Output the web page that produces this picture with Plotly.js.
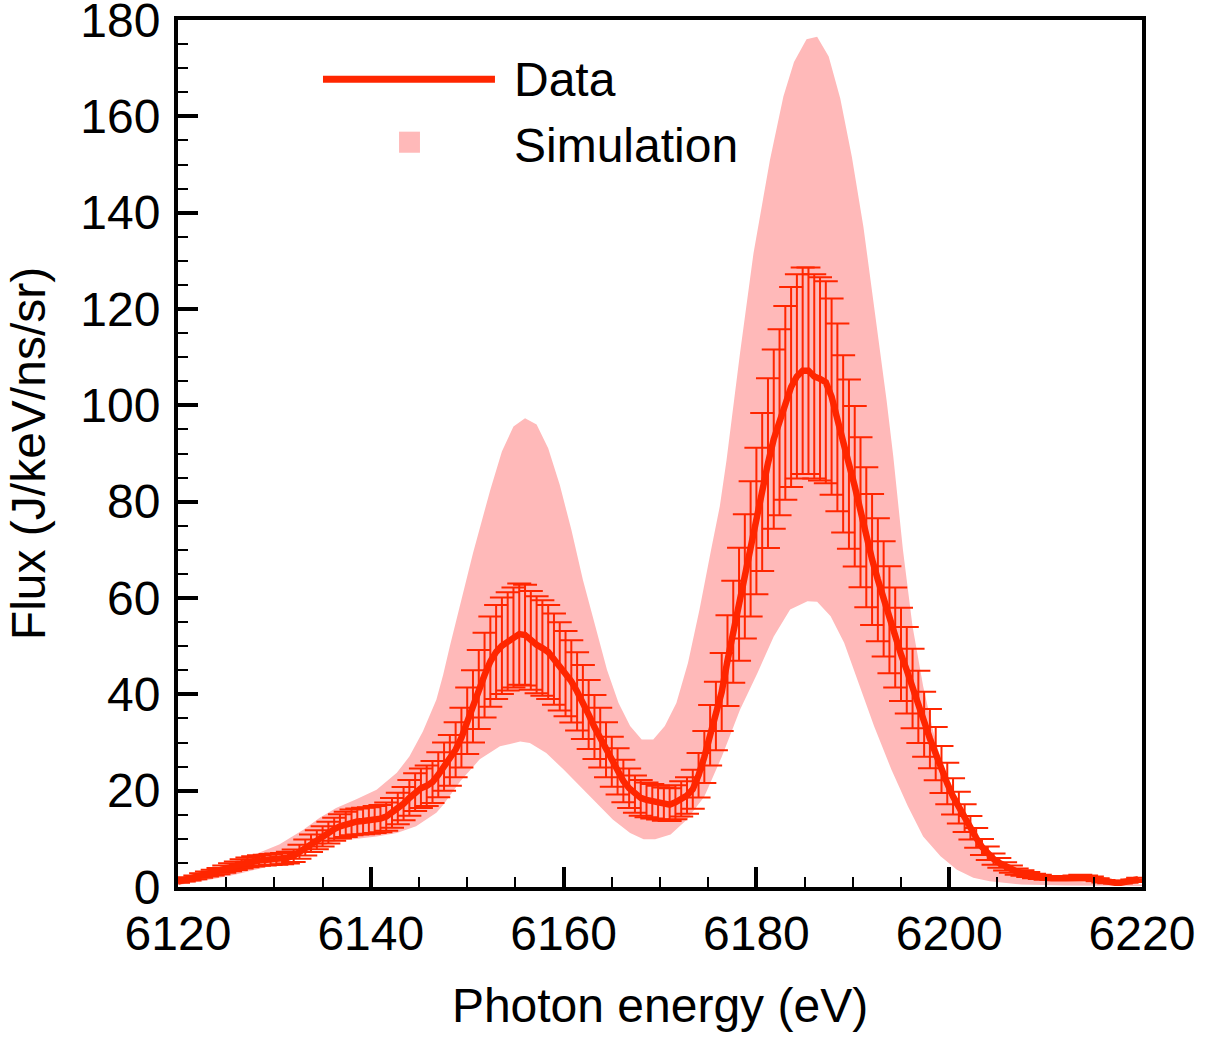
<!DOCTYPE html>
<html>
<head>
<meta charset="utf-8">
<script src="https://cdn.plot.ly/plotly-3.0.1.min.js"></script>
<style>
  html, body { margin: 0; padding: 0; background: #ffffff; }
  #chart { width: 1216px; height: 1039px; }
</style>
</head>
<body>
<div id="chart"></div>
<script>
// ---- Data ----
// Measured spectrum: first energy and energy step (eV)
const dataStartEnergy = 6120;
const dataEnergyStep = 0.6;
// Flux values (J/keV/ns/sr), one per step
const dataFlux = [
  1.1, 1.4, 1.7, 2.0, 2.4, 2.7, 3.0, 3.3, 3.7, 4.1,
  4.4, 4.8, 5.1, 5.3, 5.5, 5.6, 5.7, 5.8, 5.9, 6.1,
  6.5, 7.3, 8.2, 9.1, 9.8, 10.5, 11.3, 12.0, 12.6, 13.0,
  13.4, 13.6, 13.7, 13.8, 14.0, 14.2, 14.6, 15.4, 16.3, 17.3,
  18.5, 19.7, 20.5, 21.0, 21.8, 23.3, 25.0, 26.3, 28.5, 31.0,
  34.5, 37.5, 41.0, 44.0, 46.8, 48.8, 50.1, 51.0, 51.8, 52.5,
  52.3, 51.2, 50.3, 49.6, 48.8, 47.3, 45.8, 44.3, 42.7, 40.6,
  38.4, 35.8, 33.2, 31.0, 28.5, 26.0, 24.0, 22.0, 20.5, 19.3,
  18.5, 18.1, 17.8, 17.5, 17.2, 17.1, 17.6, 18.3, 19.0, 20.3,
  23.2, 27.0, 31.5, 35.5, 40.5, 47.0, 53.0, 58.7, 64.5, 70.2,
  76.0, 82.0, 88.0, 93.0, 96.5, 100.5, 103.8, 106.0, 107.2, 107.2,
  106.0, 105.5, 104.8, 101.8, 97.5, 92.0, 87.8, 83.2, 77.8, 72.6,
  68.0, 63.8, 59.8, 55.5, 51.8, 48.3, 45.0, 41.2, 37.4, 33.8,
  30.8, 27.7, 24.4, 21.5, 18.8, 16.5, 14.3, 12.3, 10.2, 8.3,
  7.0, 5.8, 5.0, 4.3, 3.7, 3.2, 2.9, 2.6, 2.3, 2.1,
  1.9, 1.8, 1.8, 1.8, 1.9, 2.0, 2.1, 2.0, 1.8, 1.5,
  1.2, 1.0, 0.9, 0.9, 1.1, 1.3, 1.6
];
// Error on the measured flux, in percent
const dataErrorPercent = 20;

// Simulation band: upper edge
const simUpperEnergy = [
  6120.0, 6122.0, 6124.0, 6126.0, 6128.4, 6130.5, 6133.0, 6134.7, 6136.4, 6138.5,
  6140.6, 6142.7, 6144.0, 6145.4, 6146.8, 6147.5, 6148.2, 6148.9, 6150.6, 6152.4,
  6153.6, 6154.8, 6156.0, 6157.2, 6158.4, 6159.6, 6160.8, 6162.0, 6163.3, 6164.5,
  6165.7, 6166.9, 6168.1, 6169.3, 6170.5, 6171.7, 6172.9, 6174.1, 6175.3, 6176.2,
  6176.9, 6178.3, 6179.7, 6181.4, 6182.8, 6183.9, 6185.2, 6186.3, 6187.5, 6188.7,
  6189.9, 6191.1, 6192.3, 6193.5, 6194.2, 6195.2, 6196.2, 6197.3, 6198.3, 6199.3,
  6200.4, 6201.4, 6202.8, 6204.2, 6206.0, 6207.4, 6209.0, 6211.0, 6214.0, 6217.0,
  6220.0
];
const simUpperFlux = [
  1.0, 2.5, 4.0, 5.5, 7.1, 8.8, 11.9, 14.4, 16.4, 18.2,
  20.2, 23.7, 27.1, 32.3, 38.9, 44.0, 50.0, 55.5, 69.3, 82.5,
  90.4, 95.6, 97.3, 96.0, 91.1, 83.5, 74.2, 63.8, 54.1, 45.1,
  38.2, 33.4, 30.6, 30.6, 33.4, 38.2, 46.5, 57.6, 70.0, 79.0,
  88.6, 110.8, 131.6, 150.9, 164.1, 171.3, 176.0, 176.5, 172.4, 163.7,
  151.6, 137.1, 119.1, 101.1, 89.4, 70.0, 54.1, 41.7, 32.7, 25.1,
  18.8, 14.0, 9.9, 6.4, 4.3, 2.9, 2.0, 1.4, 1.0, 0.7,
  0.5
];
// Simulation band: lower edge
const simLowerEnergy = [
  6120.0, 6122.5, 6126.0, 6129.5, 6132.2, 6134.3, 6136.4, 6138.5, 6140.6, 6142.7,
  6144.7, 6146.8, 6147.5, 6149.3, 6151.3, 6153.4, 6155.5, 6156.5, 6158.2, 6160.0,
  6161.7, 6163.4, 6165.1, 6166.9, 6168.3, 6169.5, 6171.1, 6172.8, 6174.6, 6176.4,
  6178.3, 6180.1, 6181.8, 6183.5, 6185.3, 6186.3, 6187.7, 6189.1, 6190.5, 6192.2,
  6194.0, 6195.7, 6197.3, 6199.1, 6200.8, 6202.5, 6204.2, 6207.5, 6212.0, 6220.0
];
const simLowerFlux = [
  0.4, 1.2, 2.6, 4.3, 6.1, 8.1, 9.5, 10.0, 10.5, 11.2,
  12.6, 15.4, 17.0, 22.0, 26.5, 29.2, 30.2, 29.9, 27.8, 24.4,
  20.9, 17.5, 14.0, 11.2, 9.9, 9.9, 10.9, 14.0, 18.8, 27.0,
  36.8, 44.4, 52.0, 57.6, 59.3, 59.2, 56.2, 50.7, 43.0, 33.4,
  24.4, 16.8, 10.5, 6.4, 3.6, 1.9, 1.2, 0.5, 0.3, 0.2
];

// Axis / legend texts
const xTitle = 'Photon energy (eV)';
const yTitle = 'Flux (J/keV/ns/sr)';
const seriesNames = ['Data', 'Simulation'];
const xRange = [6120, 6220];
const yRange = [0, 180];

// ---- Styles ----
const lineColor = '#ff2600';
const bandColor = '#ffb9b9';
const fontFamily = '"Liberation Sans", Arial, Helvetica, sans-serif';
const fontSize = 48;

const traces = [
  {
    x: simLowerEnergy, y: simLowerFlux, type: 'scatter', mode: 'lines',
    line: { width: 0, color: bandColor }, hoverinfo: 'skip', showlegend: false,
    name: seriesNames[1]
  },
  {
    x: simUpperEnergy, y: simUpperFlux, type: 'scatter', mode: 'lines',
    line: { width: 0, color: bandColor }, fill: 'tonexty', fillcolor: bandColor,
    showlegend: false, name: seriesNames[1]
  },
  {
    x0: dataStartEnergy, dx: dataEnergyStep, y: dataFlux, type: 'scatter', mode: 'markers',
    marker: { size: 1, color: 'rgba(0,0,0,0)' },
    error_y: { type: 'percent', value: dataErrorPercent, color: lineColor, thickness: 2, width: 12 },
    showlegend: false, hoverinfo: 'skip', name: seriesNames[0]
  },
  {
    x0: dataStartEnergy, dx: dataEnergyStep, y: dataFlux, type: 'scatter', mode: 'lines',
    line: { color: lineColor, width: 6.5 }, showlegend: false, name: seriesNames[0]
  }
];

const axisCommon = {
  showgrid: false, zeroline: false,
  showline: true, linecolor: '#000', linewidth: 4, mirror: true,
  ticks: 'inside', ticklen: 20, tickwidth: 4, tickcolor: '#000',
  ticklabeloverflow: 'allow',
  tickfont: { family: fontFamily, size: fontSize, color: '#000' }
};

const layout = {
  width: 1216, height: 1039,
  paper_bgcolor: '#fff', plot_bgcolor: '#fff',
  margin: { l: 178, r: 74, t: 20, b: 152 },
  font: { family: fontFamily, size: fontSize, color: '#000' },
  showlegend: false,
  xaxis: Object.assign({}, axisCommon, {
    range: xRange, dtick: 20, tick0: 6120,
    minor: { ticks: 'inside', ticklen: 10, tickwidth: 2, tickcolor: '#000', dtick: 5 },
    ticklabelstandoff: 1,
    title: { text: xTitle, font: { family: fontFamily, size: fontSize }, standoff: 31 }
  }),
  yaxis: Object.assign({}, axisCommon, {
    range: yRange, dtick: 20, tick0: 0,
    minor: { ticks: 'inside', ticklen: 10, tickwidth: 2, tickcolor: '#000', dtick: 5 },
    ticklabelstandoff: 4,
    title: { text: yTitle, font: { family: fontFamily, size: fontSize }, standoff: 21 }
  }),
  shapes: [
    { type: 'line', xref: 'paper', yref: 'paper', x0: 0.1504, x1: 0.3288, y0: 0.9316, y1: 0.9316,
      line: { color: lineColor, width: 7 } },
    { type: 'rect', xref: 'paper', yref: 'paper', x0: 0.2293, x1: 0.2510, y0: 0.8469, y1: 0.8712,
      fillcolor: bandColor, line: { width: 0 } }
  ],
  annotations: [
    { xref: 'paper', yref: 'paper', x: 0.3465, y: 0.9308, xanchor: 'left', yanchor: 'middle',
      text: seriesNames[0], showarrow: false, font: { family: fontFamily, size: fontSize, color: '#000' } },
    { xref: 'paper', yref: 'paper', x: 0.3465, y: 0.8558, xanchor: 'left', yanchor: 'middle',
      text: seriesNames[1], showarrow: false, font: { family: fontFamily, size: fontSize, color: '#000' } }
  ]
};

Plotly.newPlot('chart', traces, layout, { staticPlot: true, displayModeBar: false });
</script>
</body>
</html>
